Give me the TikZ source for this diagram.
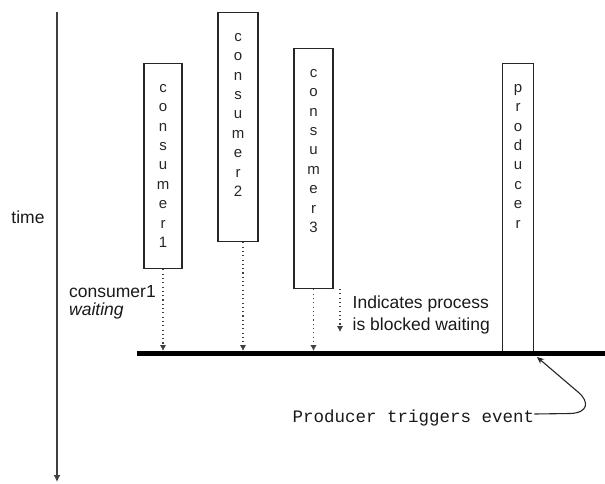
\documentclass[tikz,border=0pt]{standalone}
\usepackage{fontspec}
\setmainfont{Liberation Sans}
\newfontfamily\monofont{Liberation Mono}
\usetikzlibrary{arrows.meta}

\begin{document}
\begin{tikzpicture}[x=1pt,y=-1pt,
  procbox/.style={draw=black!85, line width=1.3pt, inner sep=0pt, anchor=north},
  vletters/.style={font=\fontsize{15}{19.4}\selectfont, align=center, inner sep=0pt,
    anchor=north, text=black!85},
  lbl/.style={font=\fontsize{17.5}{18.5}\selectfont, inner sep=0pt, text=black!90},
  waitarrow/.style={draw=black!75, line width=1.1pt, dash pattern=on 1.1pt off 3.2pt,
    -{Latex[length=6pt,width=6.5pt]}},
  eventbar/.style={line width=5.3pt, draw=black},
  timeaxis/.style={draw=black!75, line width=1.5pt, -{Latex[length=7pt,width=7pt]}},
  callout/.style={draw=black!85, line width=1.1pt, -{Stealth[length=7pt,width=6pt]}}]

\useasboundingbox (0,0) rectangle (605,483);

% time axis
\coordinate (ttop) at (57,12);
\coordinate (tbot) at (57,482);
\draw[timeaxis] (ttop) -- (tbot);
\node[lbl, anchor=base] (timelbl) at (28,223) {time};

% the event line
\coordinate (barL) at (137,353.5);
\coordinate (barR) at (605,353.5);
\coordinate (bartop) at (0,351);

% processes
\node[procbox, minimum width=38pt, minimum height=205pt] (c1box) at (163,63) {};
\node[procbox, minimum width=40pt, minimum height=229pt] (c2box) at (238,12) {};
\node[procbox, minimum width=39pt, minimum height=240pt] (c3box) at (313.5,48) {};
\node[procbox, minimum width=31pt, minimum height=290pt] (pbox) at (518,63) {};

\node[vletters] (c1txt) at ([yshift=-21pt]c1box.north) {c\\o\\n\\s\\u\\m\\e\\r\\1};
\node[vletters] (c2txt) at ([yshift=-21pt]c2box.north) {c\\o\\n\\s\\u\\m\\e\\r\\2};
\node[vletters] (c3txt) at ([yshift=-21pt]c3box.north) {c\\o\\n\\s\\u\\m\\e\\r\\3};
\node[vletters] (ptxt) at ([yshift=-21pt]pbox.north) {p\\r\\o\\d\\u\\c\\e\\r};

\draw[eventbar] (barL) -- (barR);

% blocked waiting
\coordinate (c2foot) at ([xshift=5pt]c2box.south);
\draw[waitarrow] (c1box.south) -- (c1box.south |- bartop);
\draw[waitarrow] (c2foot) -- (c2foot |- bartop);
\draw[waitarrow] (c3box.south) -- (c3box.south |- bartop);

\node[lbl, anchor=west, align=left] (c1wait) at (69,302.5) {consumer1\\\itshape waiting};

% legend
\coordinate (legtop) at (340,289);
\coordinate (legbot) at (340,332);
\draw[waitarrow] (legtop) -- (legbot);
\node[lbl, anchor=west, align=left, font=\fontsize{17.5}{22}\selectfont] (legtxt) at (352.5,314.5)
  {Indicates process\\is blocked waiting};

% trigger callout
\node[lbl, anchor=base west, font=\monofont\fontsize{17.5}{20}\selectfont] (evtxt) at (292.5,422)
  {Producer triggers event};
\coordinate (evend) at ([yshift=8pt]evtxt.base east);
\coordinate (trig) at (537,357);
\draw[callout] (evend) -- (570,413.5) .. controls (588,413) and (590,402) .. (578,392) -- (trig);

\end{tikzpicture}
\end{document}
